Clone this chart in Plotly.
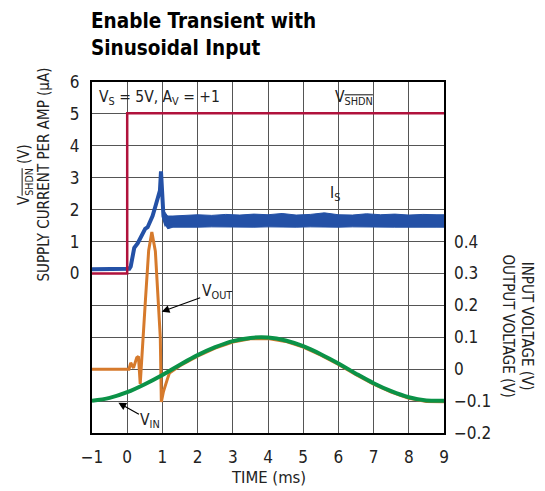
import plotly.graph_objects as go

FONT = "DejaVu Sans Condensed, Liberation Sans Narrow, Arial Narrow, sans-serif"

# V_SHDN (V), left axis
shdn_t = [-1, 0.0, 0.0, 9]
shdn_v = [0.0, 0.0, 5.02, 5.02]

# Supply current (uA), left axis
is_t = [-1, -0.5, 0.0, 0.06, 0.1, 0.14, 0.2, 0.3, 0.37, 0.45, 0.51, 0.58, 0.65, 0.72, 0.8, 0.88, 0.93, 0.96, 0.99, 1.03, 1.1, 1.2, 1.4, 2, 3, 4, 5, 6, 7, 8, 9]
is_v = [0.13, 0.13, 0.13, 0.15, 0.22, 0.5, 0.8, 0.95, 1.1, 1.3, 1.4, 1.45, 1.6, 1.8, 2.1, 2.45, 2.6, 3.2, 2.3, 1.8, 1.55, 1.6, 1.63, 1.63, 1.63, 1.63, 1.63, 1.63, 1.63, 1.63, 1.63]
# noise band of supply current after settling
band_t = [1.05, 1.15, 1.3, 1.6, 2.0, 2.4, 2.8, 3.2, 3.6, 4.0, 4.4, 4.8, 5.2, 5.6, 6.0, 6.4, 6.8, 7.2, 7.6, 8.0, 8.4, 8.8, 9.0]
band_hi = [1.95, 1.8, 1.8, 1.82, 1.84, 1.82, 1.85, 1.83, 1.86, 1.84, 1.88, 1.83, 1.85, 1.9, 1.84, 1.83, 1.87, 1.84, 1.86, 1.83, 1.85, 1.84, 1.84]
band_lo = [1.6, 1.4, 1.45, 1.46, 1.45, 1.46, 1.45, 1.46, 1.45, 1.46, 1.45, 1.45, 1.46, 1.45, 1.45, 1.46, 1.45, 1.46, 1.45, 1.45, 1.46, 1.45, 1.45]

# V_OUT (V), right axis
vout_t = [-1, 0.0, 0.05, 0.1, 0.18, 0.27, 0.32, 0.37, 0.45, 0.52, 0.61, 0.7, 0.8, 0.84, 0.9, 0.94, 0.97, 1.03, 1.13, 1.2, 1.5, 2, 2.5, 3, 3.5, 4, 4.5, 5, 5.5, 6, 6.5, 7, 7.5, 8, 8.5, 9]
vout_v = [0.0, 0.0, 0.0, 0.02, 0.004, 0.036, 0.04, -0.046, 0.08, 0.22, 0.372, 0.43, 0.37, 0.29, 0.2, 0.1, -0.103, -0.07, -0.035, -0.012, 0.011, 0.041, 0.066, 0.085, 0.095, 0.096, 0.087, 0.069, 0.044, 0.015, -0.017, -0.047, -0.072, -0.091, -0.101, -0.102]

# V_IN (V), right axis
vin_t = [-1, -0.5, 0, 0.5, 1, 1.5, 2, 2.5, 3, 3.5, 4, 4.5, 5, 5.5, 6, 6.5, 7, 7.5, 8, 8.5, 9]
vin_v = [-0.099, -0.090, -0.072, -0.047, -0.018, 0.014, 0.044, 0.069, 0.088, 0.098, 0.099, 0.090, 0.072, 0.047, 0.018, -0.014, -0.044, -0.069, -0.088, -0.098, -0.099]

x_ticks = list(range(-1, 10))
left_ticks = list(range(-5, 7))
left_text = ["" if v < 0 else str(v) for v in left_ticks]
right_ticks = [-0.2, -0.1, 0, 0.1, 0.2, 0.3, 0.4]
right_text = ["\u22120.2", "\u22120.1", "0", "0.1", "0.2", "0.3", "0.4"]

RED = "#B0123C"
BLUE = "#2451A6"
ORANGE = "#D67A2C"
GREEN = "#0B9247"

fig = go.Figure()
fig.add_trace(go.Scatter(x=band_t, y=band_lo, mode="lines", line=dict(color=BLUE, width=1), hoverinfo="skip"))
fig.add_trace(go.Scatter(x=band_t, y=band_hi, mode="lines", line=dict(color=BLUE, width=1), fill="tonexty", fillcolor=BLUE, hoverinfo="skip"))
fig.add_trace(go.Scatter(x=is_t, y=is_v, mode="lines", line=dict(color=BLUE, width=4)))
fig.add_trace(go.Scatter(x=shdn_t, y=shdn_v, mode="lines", line=dict(color=RED, width=2.5)))
fig.add_trace(go.Scatter(x=vout_t, y=vout_v, mode="lines", line=dict(color=ORANGE, width=3), yaxis="y2"))
fig.add_trace(go.Scatter(x=vin_t, y=vin_v, mode="lines", line=dict(color=GREEN, width=4, shape="spline"), yaxis="y2"))

tickfont = dict(family=FONT, size=17, color="#222")
OVL = '<span style="text-decoration:overline">SHDN</span>'

fig.update_layout(
    width=545, height=491,
    margin=dict(l=92, r=101, t=82, b=58, autoexpand=False),
    paper_bgcolor="white", plot_bgcolor="white",
    showlegend=False,
    font=dict(family=FONT, color="#222"),
    xaxis=dict(range=[-1, 9], tickvals=x_ticks, ticktext=[("\u2212" + str(-v)) if v < 0 else str(v) for v in x_ticks],
               showgrid=True, gridcolor="#555", gridwidth=1, showline=True, linecolor="black", linewidth=2,
               mirror=True, ticks="", tickfont=tickfont, zeroline=False, ticklabelstandoff=8, automargin=False),
    yaxis=dict(range=[-5, 6], tickvals=left_ticks, ticktext=left_text, showgrid=True, gridcolor="#555", gridwidth=1,
               showline=True, linecolor="black", linewidth=2, mirror=True, ticks="", tickfont=tickfont,
               zeroline=False, ticklabelstandoff=7, automargin=False),
    yaxis2=dict(range=[-0.2, 0.9], overlaying="y", side="right", tickvals=right_ticks, ticktext=right_text,
                showgrid=False, zeroline=False, ticks="", tickfont=tickfont, showline=False, ticklabelstandoff=9,
                automargin=False),
)

ann_font = dict(family=FONT, size=15.5, color="#222")
title_font = dict(family=FONT, size=15, color="#222")
fig.add_annotation(text="<b>Enable Transient with<br>Sinusoidal Input</b>", xref="paper", yref="paper",
                   x=0, y=1, yshift=75, xanchor="left", yanchor="top", align="left", showarrow=False,
                   xshift=-3, font=dict(family=FONT, size=20.5, color="black"))
fig.add_annotation(text="TIME (ms)", xref="paper", yref="paper", x=0.5, y=0, yshift=-44,
                   xanchor="center", yanchor="middle", showarrow=False, font=dict(family=FONT, size=16.5, color="#222"))
fig.add_annotation(text="V" + "<sub>" + OVL + "</sub> (V)<br>SUPPLY CURRENT PER AMP (\u00b5A)", xref="paper", yref="y",
                   x=0, xshift=-58, y=3.1, xanchor="center", yanchor="middle", textangle=-90, showarrow=False,
                   font=title_font, align="center")
fig.add_annotation(text="INPUT VOLTAGE (V)<br>OUTPUT VOLTAGE (V)", xref="paper", yref="y2",
                   x=1, xshift=73, y=0.137, xanchor="center", yanchor="middle", textangle=90, showarrow=False,
                   font=title_font, align="center")
fig.add_annotation(text="V<sub>S</sub> = 5V, A<sub>V</sub> = +1", xref="x", yref="y", x=-0.85, y=5.5,
                   xanchor="left", showarrow=False, font=ann_font)
fig.add_annotation(text="V<sub>" + OVL + "</sub>", xref="x", yref="y", x=6.45, y=5.5,
                   xanchor="center", showarrow=False, font=ann_font)
fig.add_annotation(text="I<sub>S</sub>", xref="x", yref="y", x=5.9, y=2.5,
                   xanchor="center", showarrow=False, font=ann_font)
fig.add_annotation(text="V<sub>OUT</sub>", xref="x", yref="y2", x=0.98, y=0.18, ax=55, ay=-20,
                   showarrow=True, arrowhead=2, arrowsize=1.3, arrowwidth=1.2, arrowcolor="black", font=ann_font)
fig.add_annotation(text="V<sub>IN</sub>", xref="x", yref="y2", x=-0.25, y=-0.105, ax=32, ay=18,
                   showarrow=True, arrowhead=2, arrowsize=1.3, arrowwidth=1.2, arrowcolor="black", font=ann_font)

fig.write_html("out.html", config={"displayModeBar": False},
               post_script="document.body.style.margin='0';")
